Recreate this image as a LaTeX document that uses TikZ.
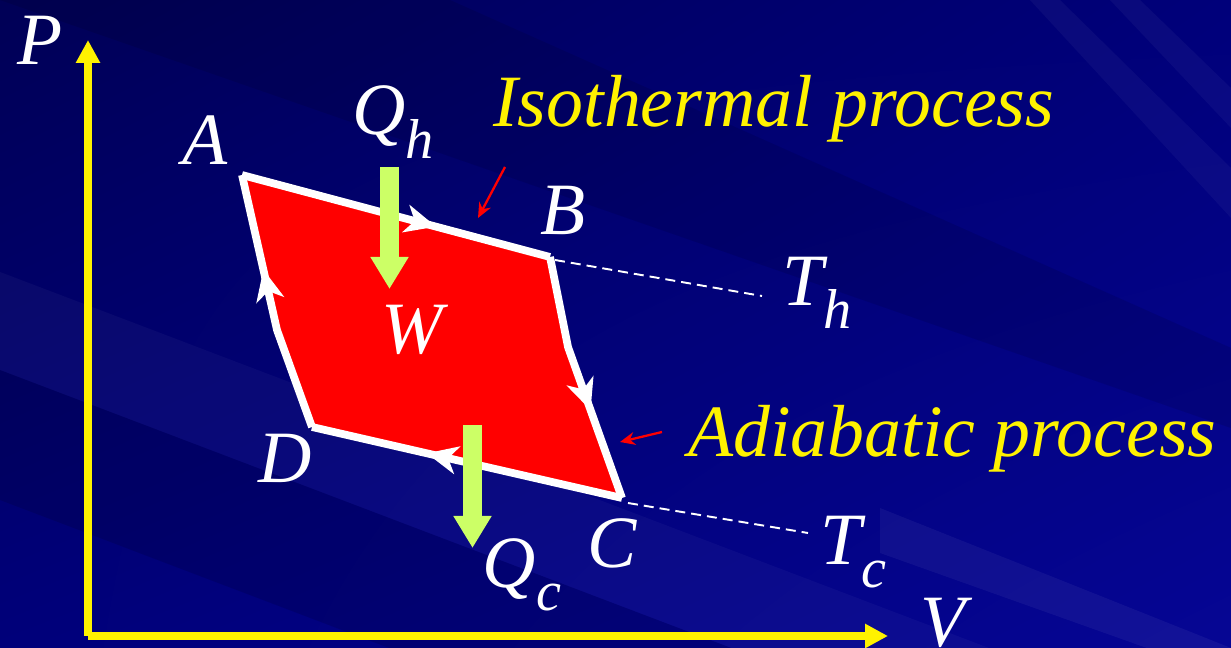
\documentclass[tikz,border=0pt]{standalone}
\usepackage{fontspec}
\setmainfont{Liberation Serif}
\usetikzlibrary{arrows.meta,decorations.markings,shadings}
\definecolor{heatgreen}{RGB}{204,255,102}
\definecolor{navydark}{RGB}{0,0,86}
\definecolor{navymid}{RGB}{0,0,122}
\definecolor{navylight}{RGB}{6,6,148}

\newcommand{\lowsub}[1]{\raisebox{-0.32em}{\fontsize{32}{32}\selectfont #1}}

\begin{document}
\begin{tikzpicture}[
  lbl/.style={text=white,font=\fontsize{42}{42}\selectfont\itshape,inner sep=0pt},
  note/.style={text=yellow,font=\fontsize{42}{42}\selectfont\itshape,inner sep=0pt,anchor=base west},
  axis/.style={yellow,line width=4.5pt,-{Triangle[width=0.46cm,length=0.46cm]}},
  side/.style={white,line width=4.4pt,line join=round,postaction={decorate},
    decoration={markings,mark=at position 0.63 with {\arrow{Stealth[length=0.62cm,width=0.56cm,inset=0.18cm]}}}},
  heat/.style={heatgreen,line width=0.38cm,-{Triangle[width=0.72cm,length=0.64cm]}},
  isoline/.style={white,line width=1.1pt,dash pattern=on 0.2cm off 0.12cm},
  pointer/.style={red,line width=1.3pt,-{Stealth[length=0.3cm,width=0.26cm]}}]
% background
\useasboundingbox (0,0) rectangle (24.62,12.96);
\shade[upper left=navydark,upper right=navymid,lower left=navymid,lower right=navylight] (0,0) rectangle (24.62,12.96);
\fill[white,opacity=0.035] (0,7.52) -- (24.62,-1.84) -- (24.62,-3.8) -- (0,5.56) -- cycle;
\fill[black,opacity=0.12] (0,5.56) -- (24.62,-3.8) -- (24.62,-6.4) -- (0,2.96) -- cycle;
\fill[black,opacity=0.10] (0,12.96) -- (9,12.96) -- (24.62,6.0) -- (24.62,4.4) -- cycle;
\fill[white,opacity=0.04] (20.6,12.96) -- (21.2,12.96) -- (24.62,9.6) -- (24.62,8.6) -- cycle;
\fill[white,opacity=0.04] (22.2,12.96) -- (22.8,12.96) -- (24.62,11.2) -- (24.62,10.4) -- cycle;
\fill[white,opacity=0.05] (17.6,1.9) -- (24.62,-0.6) -- (24.62,0) -- (17.6,2.8) -- cycle;
% corners of the cycle
\coordinate (A) at (4.84,9.46);
\coordinate (B) at (11.00,7.82);
\coordinate (Bk) at (11.36,6.02);
\coordinate (C) at (12.44,3.00);
\coordinate (D) at (6.24,4.42);
\coordinate (Dk) at (5.54,6.36);
% axes
\coordinate (O) at (1.76,0.24);
\coordinate (Ptip) at (1.76,12.16);
\coordinate (Vtip) at (17.76,0.24);
\draw[axis] (O) -- (Ptip);
\draw[axis] (O) -- (Vtip);
% isotherm guides
\coordinate (Th) at (15.24,7.04);
\coordinate (Tc) at (16.16,2.30);
\draw[isoline] (11.10,7.76) -- (Th);
\draw[isoline] (12.56,2.90) -- (Tc);
% cycle
\fill[red] (A) -- (B) -- (Bk) -- (C) -- (D) -- (Dk) -- cycle;
\draw[side] (A) -- (B);
\draw[side] (B) -- (Bk) -- (C);
\draw[side] (C) -- (D);
\draw[side] (D) -- (Dk) -- (A);
% heat flow
\coordinate (qh1) at (7.79,9.62);
\coordinate (qh2) at (7.79,7.18);
\coordinate (qc1) at (9.45,4.46);
\coordinate (qc2) at (9.45,2.00);
\draw[heat] (qh1) -- (qh2);
\draw[heat] (qc1) -- (qc2);
% pointers
\coordinate (p1) at (10.10,9.62);
\coordinate (p2) at (9.56,8.60);
\coordinate (p3) at (13.24,4.32);
\coordinate (p4) at (12.40,4.12);
\draw[pointer] (p1) -- (p2);
\draw[pointer] (p3) -- (p4);
% labels
\node[lbl] (lP) at (0.80,12.16) {P};
\node[lbl] (lV) at (18.86,0.50) {V};
\node[lbl] (lA) at (4.10,10.16) {A};
\node[lbl] (lB) at (11.26,8.76) {B};
\node[lbl] (lC) at (12.24,2.10) {C};
\node[lbl] (lD) at (5.70,3.80) {D};
\node[lbl] (lW) at (8.24,6.36) {W};
\node[lbl] (lQh) at (7.86,10.52) {Q\lowsub{h}};
\node[lbl] (lQc) at (10.44,1.46) {Q\lowsub{c}};
\node[lbl] (lTh) at (16.34,7.10) {T\lowsub{h}};
\node[lbl] (lTc) at (17.06,1.92) {T\lowsub{c}};
\node[note] (iso) at (9.86,10.42) {Isothermal process};
\node[note] (adi) at (13.76,3.82) {Adiabatic process};
\end{tikzpicture}
\end{document}
